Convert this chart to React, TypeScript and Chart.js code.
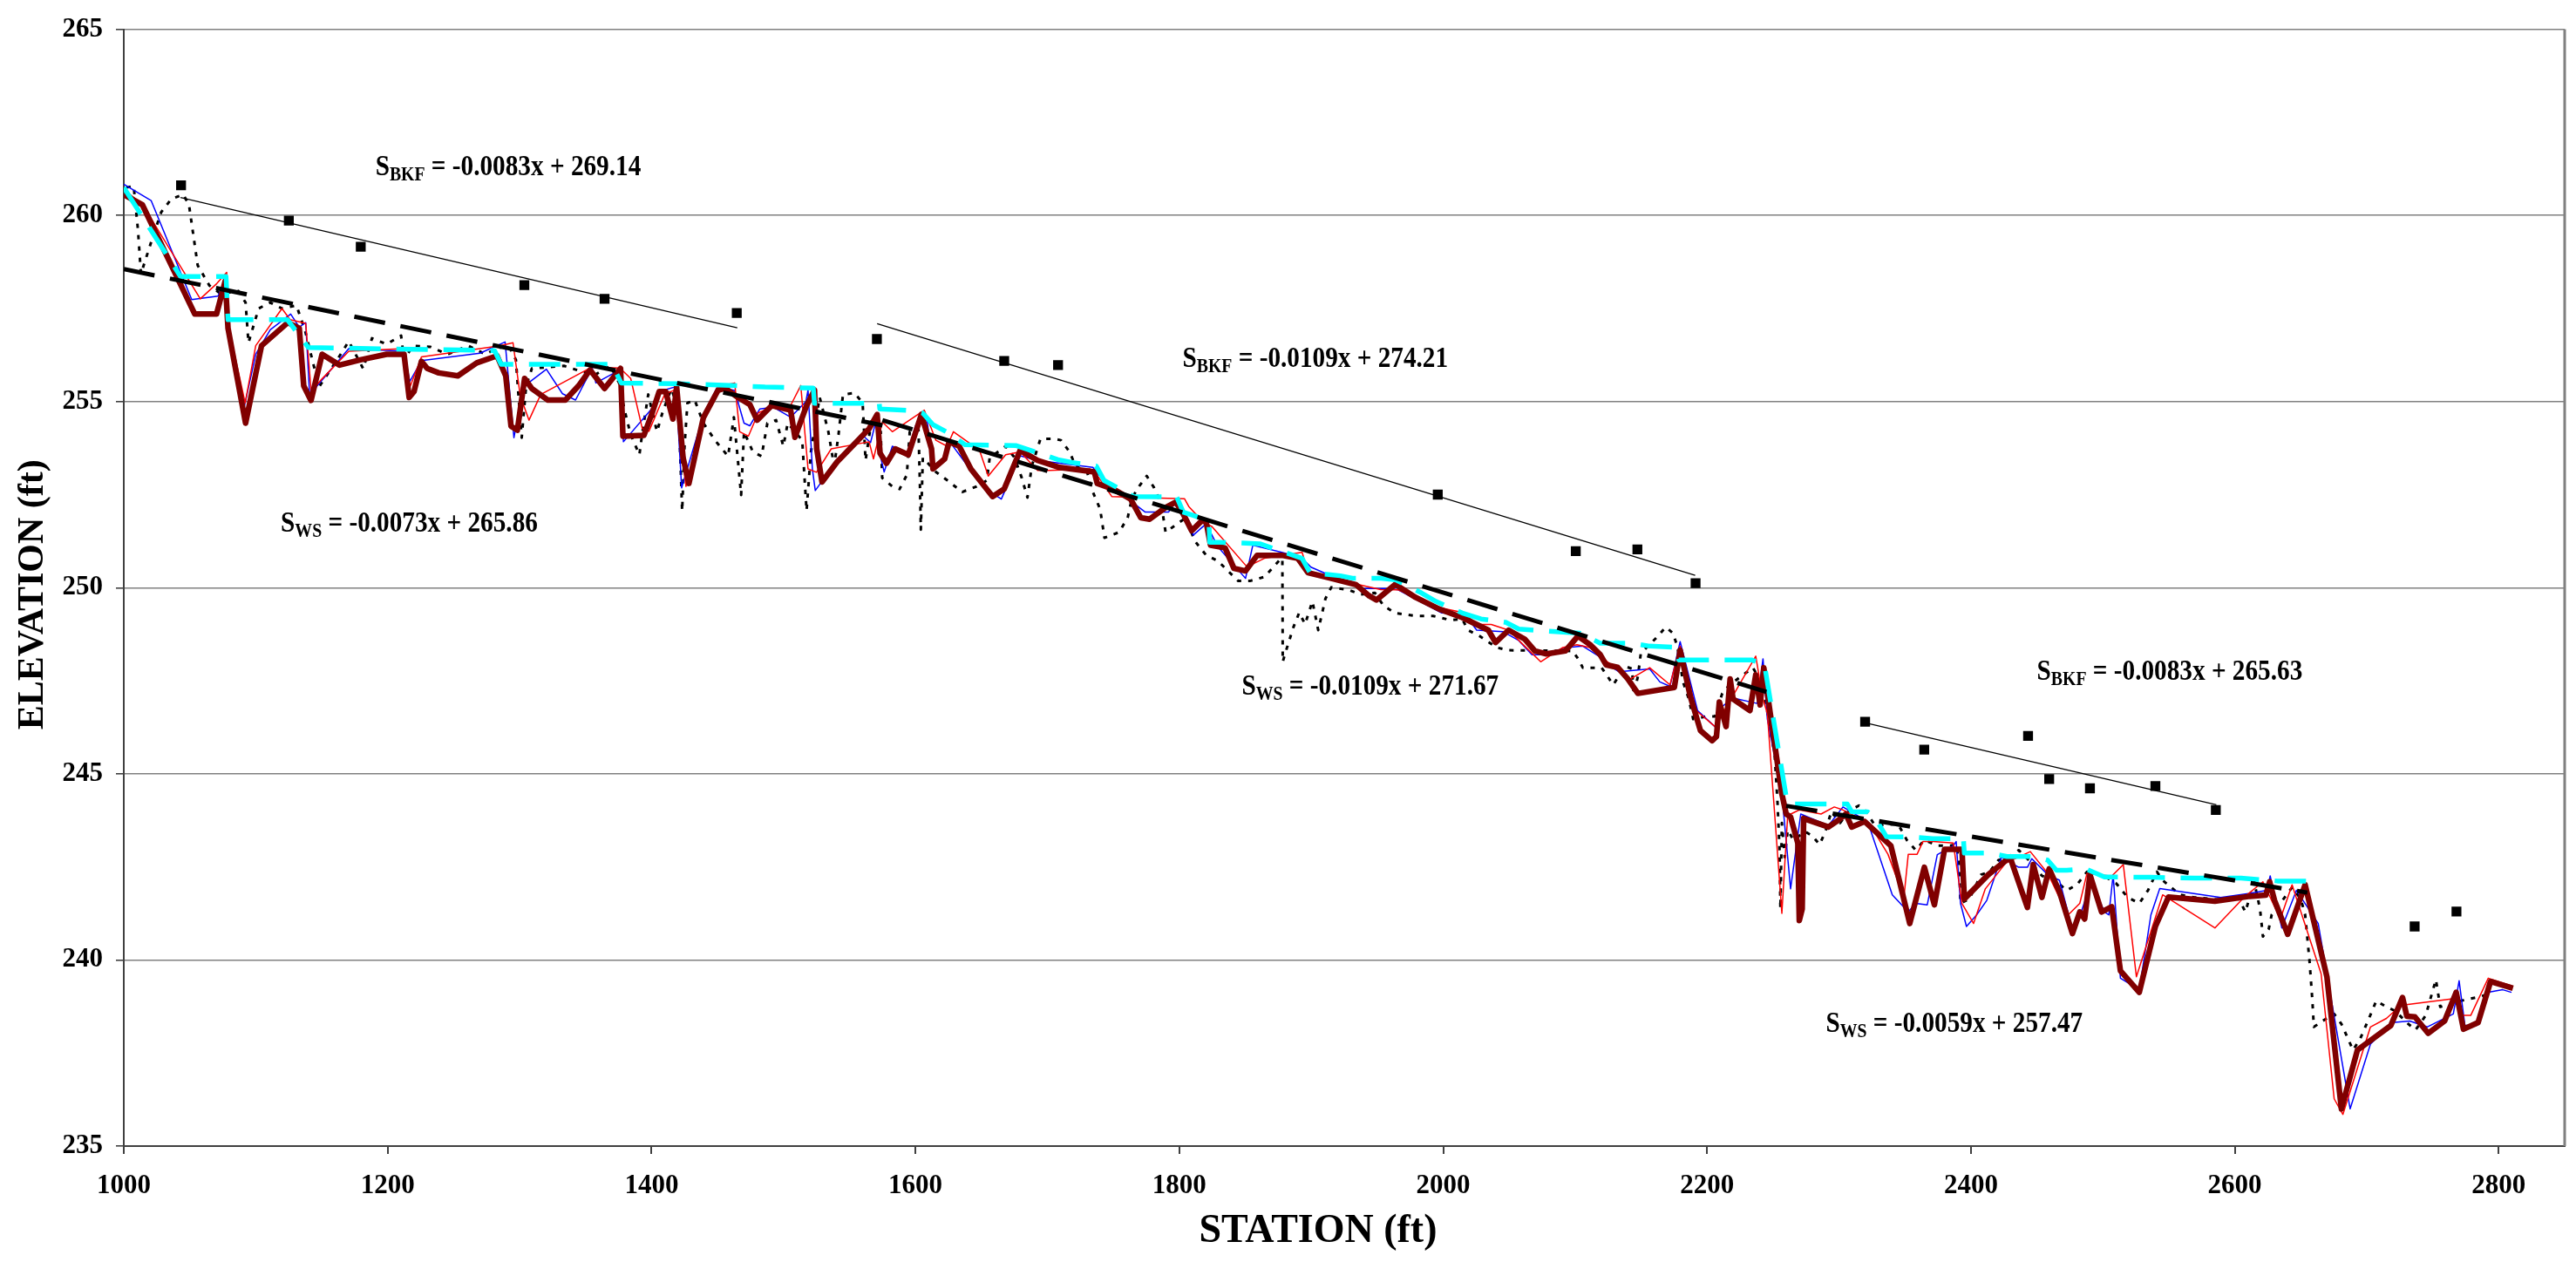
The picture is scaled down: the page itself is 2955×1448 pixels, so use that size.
import React, { useEffect, useRef } from "react";
import { Chart, registerables } from "chart.js";

Chart.register(...registerables);

type P = [number, number];

// ---------- axes ----------
const xTickValues = [1000, 1200, 1400, 1600, 1800, 2000, 2200, 2400, 2600, 2800];
const yTickValues = [235, 240, 245, 250, 255, 260, 265];
const xMin = 1000;
const xMax = 2850;
const yMin = 235;
const yMax = 265;

// ---------- bankfull points (black squares) ----------
const bkfPoints: P[] = [
  [1043.4, 260.81], [1125.1, 259.86], [1179.6, 259.16], [1303.6, 258.13], [1364.4, 257.76], [1464.6, 257.38],
  [1570.8, 256.68], [1667.3, 256.09], [1708.1, 255.98], [1995.9, 252.5], [2100.5, 250.98], [2147.2, 251.03], [2191.3, 250.12],
  [2319.8, 246.4], [2364.6, 245.65], [2443.3, 246.02], [2459.3, 244.86], [2490.2, 244.61], [2539.8, 244.67], [2585.6, 244.03],
  [2736.3, 240.9], [2768.0, 241.3],
];

// ---------- trend lines (end points) ----------
const bkfTrend1: P[] = [[1043, 260.48], [1465, 256.98]];
const bkfTrend2: P[] = [[1571, 257.09], [2191, 250.33]];
const bkfTrend3: P[] = [[2320, 246.37], [2586, 244.17]];
const wsTrend1: P[] = [[1000, 258.56], [1575, 254.36]];
const wsTrend2: P[] = [[1575, 254.5], [2245, 247.2]];
const wsTrend3: P[] = [[2260, 244.14], [2655, 241.81]];

// ---------- cyan stepped water surface ----------
const cyanWS: P[] = [
  [1000, 260.75], [1043, 258.36], [1077.5, 258.36], [1079, 257.2], [1124, 257.2], [1140, 256.45], [1281, 256.37],
  [1286, 256.0], [1370, 256.0], [1377, 255.5], [1418, 255.48], [1455, 255.44], [1486, 255.39], [1522.6, 255.36],
  [1523.5, 254.95], [1572.6, 254.95], [1573, 254.8], [1600, 254.75], [1605.6, 254.69], [1613.3, 254.38], [1625.5, 254.15],
  [1637.6, 253.84], [1676, 253.82], [1687, 253.69], [1708, 253.44], [1719, 253.36], [1737, 253.27], [1743, 252.88],
  [1765.3, 252.45], [1798, 252.44], [1803, 252.03], [1816, 251.88], [1822.6, 251.64], [1823, 251.22], [1831, 251.22],
  [1861, 251.18], [1875.5, 251.0], [1893, 250.79], [1899, 250.41], [1922, 250.32], [1932, 250.25], [1953, 250.25],
  [1964, 250.21], [1983.5, 249.86], [1994.5, 249.63], [2014.4, 249.32], [2028.7, 249.16], [2047.4, 249.07], [2057.3, 248.89],
  [2076, 248.84], [2103.6, 248.78], [2119, 248.51], [2142, 248.51], [2156.5, 248.43], [2176.3, 248.4], [2178.5, 248.06],
  [2233.6, 248.06], [2243.5, 247.93], [2260, 244.38], [2262.2, 244.19], [2306.3, 244.19], [2309.6, 243.98], [2321.7, 243.98],
  [2328.3, 243.76], [2336, 243.31], [2357, 243.3], [2371, 243.26], [2394.3, 243.26], [2395, 242.87], [2414.2, 242.87],
  [2427.4, 242.78], [2448.3, 242.78], [2458.2, 242.68], [2464.8, 242.41], [2472.6, 242.41], [2486.9, 242.45], [2501.2, 242.23],
  [2536.4, 242.22], [2569.5, 242.2], [2604.7, 242.2], [2632.3, 242.12], [2655, 242.12],
];

// ---------- thick dark red profile ----------
const maroonProfile: P[] = [
  [1000, 260.56], [1014, 260.29], [1053.8, 257.35], [1070.3, 257.35], [1076.9, 258.24], [1079, 256.97], [1092.3, 254.42],
  [1104.4, 256.5], [1124.3, 257.12], [1133, 256.97], [1136.4, 255.42], [1141.9, 255.03], [1150.3, 256.27], [1163.5, 255.98],
  [1179.3, 256.12], [1199.2, 256.27], [1212.4, 256.27], [1216.3, 255.11], [1220, 255.27], [1225.6, 256.08], [1230, 255.89],
  [1238.8, 255.77], [1253.2, 255.69], [1267.5, 256.04], [1282.9, 256.23], [1289.5, 255.69], [1293.5, 254.34], [1298.3, 254.23],
  [1303.8, 255.62], [1309.3, 255.35], [1321.5, 255.04], [1334.7, 255.04], [1344.6, 255.42], [1353.4, 255.85], [1364.4, 255.35],
  [1376.5, 255.89], [1378.3, 254.07], [1394.2, 254.09], [1400.8, 254.73], [1405.8, 255.27], [1410.7, 255.27], [1416.2, 254.53],
  [1419, 255.39], [1423.9, 253.49], [1428.3, 252.8], [1439.3, 254.57], [1450.3, 255.3], [1455.8, 255.36], [1463.5, 255.16],
  [1474.5, 254.92], [1480, 254.5], [1491, 254.89], [1505.4, 254.77], [1508.7, 254.04], [1517.5, 254.89], [1523.5, 255.31],
  [1525.2, 253.73], [1529.2, 252.84], [1540.6, 253.38], [1564.9, 254.27], [1571, 254.65], [1573.2, 253.61], [1578.1, 253.34],
  [1584.7, 253.73], [1594.6, 253.57], [1604.5, 254.65], [1612.2, 253.73], [1613.3, 253.19], [1622.2, 253.46], [1625.5, 253.92],
  [1633.2, 253.8], [1642, 253.19], [1658.5, 252.45], [1667.3, 252.65], [1679.4, 253.69], [1692.6, 253.42], [1709.2, 253.23],
  [1735.6, 253.11], [1737.8, 252.8], [1749.9, 252.65], [1763.1, 252.38], [1770.8, 251.88], [1777.5, 251.84], [1789.6, 252.15],
  [1797.3, 252.3], [1802.8, 251.99], [1809.4, 251.53], [1817.1, 251.8], [1820.4, 251.76], [1823.7, 251.14], [1834.7, 251.07],
  [1841.4, 250.52], [1850.2, 250.45], [1859, 250.87], [1877.7, 250.87], [1889.8, 250.79], [1897.6, 250.4], [1915.2, 250.25],
  [1934, 250.08], [1943.9, 249.78], [1949.4, 249.67], [1963.7, 250.09], [1979.1, 249.74], [1996.7, 249.43], [2014.4, 249.2],
  [2034.2, 248.86], [2039.7, 248.53], [2049.6, 248.86], [2061.7, 248.62], [2069.5, 248.3], [2078.3, 248.22], [2092.6, 248.3],
  [2102.1, 248.7], [2111.3, 248.47], [2119, 248.2], [2123.4, 247.93], [2132.2, 247.86], [2139.9, 247.55], [2147.6, 247.16],
  [2175.2, 247.32], [2179.6, 248.32], [2187.3, 247.08], [2195, 246.16], [2203.8, 245.89], [2207.1, 246.0], [2209.3, 246.93],
  [2214.4, 246.27], [2217.5, 247.55], [2219.7, 247.01], [2232.5, 246.7], [2236.9, 247.66], [2240.2, 246.85], [2243, 247.85],
  [2247.9, 246.62], [2256.7, 244.46], [2260, 243.92], [2263.3, 243.84], [2268.8, 243.14], [2269.9, 241.06], [2272.1, 241.37],
  [2273.2, 243.8], [2292, 243.57], [2299.7, 243.76], [2305.2, 243.92], [2309.6, 243.57], [2319.5, 243.72], [2339.3, 243.07],
  [2353.6, 240.98], [2364.7, 242.49], [2372.3, 241.48], [2380, 242.97], [2393.2, 242.97], [2395, 241.64], [2413.1, 242.29],
  [2429.6, 242.76], [2442.8, 241.41], [2447.2, 242.56], [2453.8, 241.68], [2459.3, 242.45], [2467.1, 241.83], [2476.9, 240.71],
  [2482.5, 241.29], [2486.2, 241.1], [2490.2, 242.29], [2499, 241.29], [2506.7, 241.43], [2513.3, 239.71], [2527.6, 239.13],
  [2539.8, 240.9], [2549.7, 241.69], [2584.9, 241.58], [2611.4, 241.71], [2623.5, 241.74], [2626.4, 242.1], [2630.1, 241.6],
  [2640.1, 240.69], [2653.3, 242.02], [2669.8, 239.55], [2680.8, 236.0], [2692.9, 237.58], [2718.3, 238.24], [2727.1, 238.99],
  [2730.4, 238.49], [2736.5, 238.47], [2746.5, 238.03], [2759, 238.36], [2767.8, 239.13], [2773.3, 238.14], [2784.4, 238.32],
  [2793.8, 239.42], [2810.8, 239.24],
];

// ---------- thin blue profile ----------
const blueProfile: P[] = [
  [1000, 260.84], [1020.7, 260.4], [1051.5, 257.74], [1071.4, 257.83], [1077, 258.28], [1079, 257.0], [1091.2, 254.84],
  [1100, 256.27], [1111, 256.93], [1126.5, 257.35], [1133, 257.0], [1137.9, 257.12], [1140.8, 255.19], [1146, 255.4],
  [1170.5, 256.42], [1212.4, 256.35], [1216.8, 255.54], [1225.6, 256.1], [1270, 256.3], [1289, 256.6], [1295.7, 254.03],
  [1303, 255.4], [1320.3, 255.87], [1332.5, 255.21], [1342.4, 255.04], [1355, 255.9], [1357.8, 255.5], [1376, 255.85],
  [1378.7, 253.92], [1400, 254.8], [1405.8, 255.27], [1418.5, 255.4], [1422.8, 252.68], [1439, 254.6], [1450, 255.4],
  [1463, 255.3], [1470.1, 254.42], [1474.5, 254.35], [1482, 254.8], [1492.2, 254.85], [1505.4, 254.58], [1517, 255.0],
  [1518.6, 255.31], [1521.9, 253.19], [1524.1, 252.61], [1530, 252.9], [1559.4, 254.11], [1566, 253.9], [1571, 254.6],
  [1573.7, 253.5], [1576.3, 253.11], [1582.5, 253.8], [1594, 253.6], [1600.1, 254.35], [1608.9, 254.5], [1611.1, 253.8],
  [1613, 253.2], [1622, 253.5], [1626, 253.92], [1639.8, 253.26], [1658, 252.55], [1665.1, 252.38], [1679.4, 253.54],
  [1692.6, 253.42], [1734.5, 253.23], [1738.9, 253.03], [1749.9, 252.69], [1768.6, 252.18], [1774.2, 252.03], [1791.8, 252.03],
  [1798, 252.34], [1807.2, 251.8], [1810.5, 251.41], [1820.4, 251.72], [1829.2, 251.1], [1850.2, 250.25], [1855.7, 251.14],
  [1877.7, 250.95], [1893.1, 250.79], [1899.8, 250.55], [1909.7, 250.4], [1939.5, 249.98], [1959.3, 249.98], [1965.9, 249.94],
  [1998.9, 249.32], [2016.6, 249.28], [2025.4, 248.86], [2045.2, 248.82], [2057.3, 248.58], [2067.3, 248.2], [2076, 248.2],
  [2093.7, 248.39], [2105.8, 248.43], [2117.9, 248.16], [2123.4, 247.97], [2133.3, 247.74], [2156.5, 247.82], [2164.2, 247.47],
  [2171.9, 247.35], [2179.6, 248.55], [2192.8, 246.7], [2207.1, 246.23], [2210.4, 246.77], [2219.3, 247.04], [2238, 246.89],
  [2242.4, 248.09], [2245.7, 246.47], [2256.7, 244.46], [2263.3, 241.91], [2271, 243.92], [2292, 243.61], [2303, 244.11],
  [2321.7, 243.72], [2340.4, 241.75], [2352.5, 241.29], [2358.1, 241.52], [2366.9, 241.48], [2374.5, 242.83], [2386.6, 243.07],
  [2388.8, 243.18], [2392.1, 241.52], [2396.6, 240.9], [2404.3, 241.21], [2412, 241.6], [2423, 242.76], [2436.2, 242.49],
  [2442.8, 242.49], [2446.1, 242.72], [2458.2, 242.29], [2467.1, 242.14], [2476.9, 240.83], [2483.6, 241.29], [2491.3, 242.1],
  [2501.2, 241.29], [2504.5, 241.21], [2507.8, 242.29], [2513.3, 239.51], [2527.6, 239.2], [2536.4, 241.21], [2543.1, 241.92],
  [2589.3, 241.68], [2611.4, 241.79], [2624.6, 241.87], [2626.8, 242.26], [2635.6, 240.86], [2641.2, 241.37], [2646.7, 241.87],
  [2663.2, 240.98], [2687.4, 236.0], [2702.8, 237.74], [2719.4, 238.32], [2732.6, 238.36], [2745.8, 238.2], [2765.6, 238.55],
  [2770, 239.44], [2774.4, 238.24], [2783.3, 238.24], [2792.1, 239.13], [2803.1, 239.2], [2809.7, 239.13],
];

// ---------- thin red profile ----------
const redProfile: P[] = [
  [1000, 260.7], [1014, 260.3], [1058, 257.76], [1070.5, 258.17], [1078, 258.47], [1079.5, 257.0], [1092, 254.96],
  [1100, 256.5], [1119.9, 257.5], [1126, 257.2], [1137.9, 257.1], [1142, 255.27], [1150, 255.6], [1170.5, 256.35],
  [1212.4, 256.42], [1217, 255.4], [1225.6, 256.2], [1285.1, 256.5], [1295, 256.58], [1300.5, 255.15], [1307.1, 254.5],
  [1316, 255.19], [1354.5, 255.92], [1376, 255.9], [1384.2, 255.62], [1393, 254.27], [1398, 254.2], [1410, 255.2],
  [1417, 255.3], [1426.1, 252.72], [1440, 254.5], [1450, 255.4], [1463, 255.5], [1466.8, 254.19], [1473.4, 254.07],
  [1481, 254.7], [1492, 254.85], [1505.5, 254.9], [1513.1, 255.43], [1518.6, 253.19], [1525, 253.1], [1536.2, 253.73],
  [1564.9, 253.92], [1568.2, 253.46], [1575, 254.45], [1582.5, 254.19], [1606.7, 254.77], [1615.5, 253.96], [1624, 253.8],
  [1628.8, 254.19], [1648.6, 253.69], [1655.2, 253.0], [1668.4, 253.57], [1679.4, 253.65], [1692.6, 253.15], [1701.4, 253.15],
  [1732.3, 253.19], [1738.9, 252.96], [1748.8, 252.45], [1773, 252.42], [1803.9, 252.39], [1807.2, 252.18], [1818.2, 251.76],
  [1824.8, 251.64], [1851.3, 250.56], [1864.5, 250.79], [1893.1, 250.95], [1897.6, 250.4], [1935.1, 250.09], [1952.7, 249.95],
  [1965.9, 249.94], [1979.1, 249.74], [1996.7, 249.47], [2015.5, 249.33], [2025.4, 249.01], [2036.4, 249.01], [2049.6, 248.86],
  [2060.6, 248.47], [2073.9, 248.01], [2090.4, 248.39], [2101.4, 248.47], [2111.3, 248.39], [2124.5, 248.01], [2142.1, 247.55],
  [2156.5, 247.85], [2171.9, 247.39], [2179.6, 248.43], [2191.7, 246.7], [2206, 246.27], [2219.3, 247.08], [2236.9, 248.16],
  [2242.4, 247.01], [2245.7, 246.62], [2256.7, 241.25], [2261.1, 243.88], [2269.9, 244.03], [2286.4, 243.92], [2296.4, 244.11],
  [2303, 244.03], [2322.8, 243.68], [2337.1, 242.84], [2349.2, 241.68], [2352.5, 242.84], [2359.2, 242.84], [2363.6, 243.18],
  [2371.2, 243.18], [2386.6, 243.14], [2393.2, 241.52], [2402, 240.98], [2410.9, 241.91], [2426.3, 242.6], [2445, 242.91],
  [2458.2, 242.33], [2466, 241.75], [2473.7, 241.21], [2482.5, 241.52], [2488, 242.33], [2506.7, 242.25], [2515.5, 242.56],
  [2525.4, 239.55], [2545.3, 241.75], [2584.9, 240.86], [2606.9, 241.68], [2621.3, 242.1], [2634.5, 241.1], [2643.4, 242.02],
  [2665.4, 239.63], [2675.3, 236.27], [2681.9, 235.85], [2702.8, 238.2], [2714.9, 238.43], [2726, 238.78], [2767.8, 238.97],
  [2772.2, 238.51], [2778.8, 238.51], [2792.1, 239.51], [2810, 239.3],
];

// ---------- dotted black profile ----------
const dottedProfile: P[] = [
  [1002, 260.75], [1007.5, 260.79], [1010.8, 259.59], [1013, 258.43], [1020.7, 259.28], [1028.4, 260.09], [1036, 260.44],
  [1045, 260.56], [1049.4, 260.29], [1056, 258.66], [1064.8, 258.12], [1073.6, 257.89], [1086.8, 257.97], [1092.3, 257.66],
  [1094.5, 256.58], [1102.2, 257.5], [1111, 257.66], [1119.8, 257.5], [1130.9, 257.58], [1137.5, 256.89], [1144, 255.96],
  [1148.5, 255.42], [1161.7, 256.12], [1170.5, 256.62], [1181.5, 255.88], [1188.1, 256.7], [1199.2, 256.54], [1210.2, 256.77],
  [1212.4, 256.12], [1219, 256.5], [1232.2, 256.47], [1245.4, 256.27], [1260.9, 256.5], [1274.1, 256.27], [1282.9, 256.43],
  [1291.7, 256.5], [1297.2, 256.12], [1299.4, 255.04], [1301.6, 254.03], [1304.9, 255.42], [1309.3, 255.89], [1320.3, 255.92],
  [1333.6, 255.96], [1346.8, 255.81], [1357.8, 255.73], [1368.8, 255.96], [1375.4, 255.5], [1379.8, 254.73], [1384.2, 254.11],
  [1390.8, 253.57], [1393.1, 254.19], [1397.5, 255.19], [1404.1, 254.19], [1408.5, 254.73], [1415.1, 255.35], [1420.6, 254.73],
  [1423.2, 252.06], [1425, 253.8], [1427.2, 254.96], [1432.7, 255.04], [1439.3, 254.42], [1448.1, 253.96], [1458, 253.53],
  [1462.4, 254.58], [1467.9, 252.49], [1470.1, 254.19], [1476.8, 253.65], [1483.4, 253.53], [1487.8, 254.42], [1494.4, 254.5],
  [1499.9, 253.8], [1503.2, 254.42], [1514.2, 253.96], [1517.5, 252.07], [1520.8, 253.65], [1527.4, 255.12], [1534, 254.19],
  [1538.4, 253.26], [1541.7, 254.11], [1545.1, 255.19], [1553.9, 255.23], [1560, 254.96], [1562.2, 253.42], [1567.1, 254.58],
  [1573.7, 254.19], [1574.8, 252.95], [1582.5, 252.72], [1588, 252.65], [1593.5, 253.03], [1595.7, 254.19], [1602.3, 254.27],
  [1603.4, 252.8], [1604.1, 251.56], [1605.6, 253.49], [1615.5, 253.11], [1624.3, 252.88], [1635.4, 252.57], [1646.4, 252.72],
  [1654.1, 252.88], [1656.3, 253.49], [1668.4, 253.8], [1675, 253.5], [1680.5, 252.96], [1684.9, 252.42], [1688.2, 253.27],
  [1694.8, 254.0], [1704.8, 254.0], [1710.3, 253.96], [1716.9, 253.65], [1721.3, 253.27], [1730.1, 253.11], [1734.5, 252.57],
  [1740, 252.11], [1743.3, 251.34], [1754.3, 251.49], [1760.9, 251.88], [1764.2, 252.42], [1769.7, 252.73], [1775.3, 253.0],
  [1780.8, 252.69], [1786.3, 252.26], [1789.6, 251.49], [1805, 251.88], [1811.6, 251.26], [1820.4, 250.87], [1829.2, 250.72],
  [1838, 250.41], [1844.7, 250.18], [1853.5, 250.18], [1864.5, 250.29], [1875.5, 250.72], [1878.1, 250.79], [1878.4, 248.01],
  [1881, 248.32], [1886.5, 248.94], [1890.9, 249.33], [1895.3, 249.02], [1900.9, 249.63], [1905.3, 248.86], [1910.8, 249.71],
  [1915.2, 250.01], [1928.5, 249.94], [1937.3, 249.82], [1948.3, 249.86], [1954.9, 249.51], [1963.7, 249.32], [1979.1, 249.24],
  [1992.3, 249.24], [2005.6, 249.13], [2014.4, 249.16], [2018.8, 248.86], [2027.6, 248.7], [2040.8, 248.39], [2049.6, 248.32],
  [2098.1, 248.3], [2102.5, 248.08], [2105.8, 247.85], [2120.1, 247.85], [2128.9, 247.39], [2137.7, 247.89], [2143.2, 247.82],
  [2144.3, 247.12], [2147.6, 247.62], [2149.8, 248.24], [2162, 248.67], [2168.6, 248.94], [2174.1, 248.78], [2177.4, 248.43],
  [2181.8, 247.47], [2186.2, 247.01], [2189.5, 246.47], [2199.4, 246.54], [2206, 246.54], [2211.5, 247.16], [2217.1, 247.39],
  [2234.7, 247.85], [2238, 247.66], [2242.4, 247.39], [2247.9, 246.16], [2251.2, 245.54], [2253.4, 244.23], [2255, 242.91],
  [2255.6, 241.37], [2256.7, 243.68], [2258.9, 242.76], [2261.1, 243.49], [2265.5, 243.22], [2274.3, 243.45], [2279.8, 243.33],
  [2285.3, 243.1], [2289.7, 243.45], [2294.2, 243.99], [2300.8, 243.68], [2307.4, 243.99], [2315.1, 244.15], [2320.6, 243.99],
  [2327.2, 243.61], [2344.8, 243.65], [2351.4, 243.22], [2358.1, 242.95], [2364.7, 243.22], [2374.6, 243.07], [2384.4, 243.07],
  [2388.8, 243.1], [2391, 242.6], [2392.1, 241.52], [2398.8, 241.64], [2407.6, 242.29], [2414.2, 242.37], [2420.8, 242.68],
  [2428.5, 242.76], [2436.2, 242.95], [2443.9, 242.68], [2453.8, 242.26], [2463.7, 242.14], [2472.6, 241.87], [2480.3, 242.02],
  [2488, 242.37], [2499, 242.29], [2510, 242.06], [2518.8, 241.68], [2527.6, 241.52], [2534.2, 241.87], [2540.9, 242.37],
  [2545.3, 242.14], [2558.5, 241.75], [2569.5, 241.68], [2593.7, 241.6], [2602.5, 241.68], [2608, 241.29], [2614.7, 242.1],
  [2619.1, 241.37], [2621.3, 240.63], [2625.7, 240.83], [2627.9, 241.21], [2643.4, 241.95], [2650, 241.64], [2653.3, 241.21],
  [2656.6, 239.98], [2658.8, 238.9], [2659.9, 238.2], [2666.5, 238.36], [2675.3, 238.55], [2680.8, 238.28], [2689.6, 237.58],
  [2695.1, 237.89], [2701.7, 238.43], [2707.2, 238.9], [2714.9, 238.74], [2721.6, 238.63], [2731.5, 238.28], [2737, 238.12],
  [2744.7, 238.51], [2750.2, 239.2], [2752.4, 239.47], [2755.7, 238.74], [2774.4, 238.93], [2785.4, 239.01], [2793.2, 239.09],
];

// ---------- equation labels ----------
const labelStations = [1190.7, 1119, 1802.4, 1847.3, 2450, 2290];
const labelElevations = [261.18, 251.61, 256.03, 247.22, 247.63, 238.15];
const labelSubs = ["BKF", "WS", "BKF", "WS", "BKF", "WS"];
const labelTexts = [
  " = -0.0083x + 269.14",
  " = -0.0073x + 265.86",
  " = -0.0109x + 274.21",
  " = -0.0109x + 271.67",
  " = -0.0083x + 265.63",
  " = -0.0059x + 257.47",
];

const xTitle = "STATION (ft)";
const yTitle = "ELEVATION (ft)";

const FONT = '"Liberation Serif", "Times New Roman", serif';

const toXY = (a: P[]) => a.map(([x, y]) => ({ x, y }));

export default function App() {
  const ref = useRef<HTMLCanvasElement | null>(null);

  useEffect(() => {
    const canvas = ref.current;
    if (!canvas) return;

    const line = (data: P[], color: string, width: number, dash: number[], order: number) => ({
      data: toXY(data),
      showLine: true,
      borderColor: color,
      backgroundColor: color,
      borderWidth: width,
      borderDash: dash,
      borderCapStyle: "butt",
      borderJoinStyle: "round",
      pointRadius: 0,
      pointHoverRadius: 0,
      pointHitRadius: 0,
      tension: 0,
      fill: false,
      order,
    });

    const textPlugin = {
      id: "textPlugin",
      afterDraw(chart: any) {
        const { ctx, chartArea, scales } = chart;
        ctx.save();
        // right border of plot area
        ctx.strokeStyle = "#808080";
        ctx.lineWidth = 3;
        ctx.beginPath();
        ctx.moveTo(chartArea.right, chartArea.top);
        ctx.lineTo(chartArea.right, chartArea.bottom);
        ctx.stroke();

        ctx.fillStyle = "#000";
        ctx.textBaseline = "alphabetic";
        ctx.textAlign = "left";
        const sx = 0.86;
        for (let i = 0; i < labelStations.length; i++) {
          const px = scales.x.getPixelForValue(labelStations[i]);
          const py = scales.y.getPixelForValue(labelElevations[i]);
          const base = py + 4;
          ctx.save();
          ctx.translate(px, base);
          ctx.scale(sx, 1);
          ctx.font = `bold 34px ${FONT}`;
          ctx.fillText("S", 0, 0);
          let w = ctx.measureText("S").width;
          ctx.font = `bold 23px ${FONT}`;
          ctx.fillText(labelSubs[i], w, 6);
          w += ctx.measureText(labelSubs[i]).width;
          ctx.font = `bold 34px ${FONT}`;
          ctx.fillText(labelTexts[i], w, 0);
          ctx.restore();
        }

        // axis titles
        ctx.font = `bold 46px ${FONT}`;
        ctx.textAlign = "center";
        ctx.textBaseline = "middle";
        ctx.fillText(xTitle, 1512, 1413);
        ctx.save();
        ctx.translate(38, (chartArea.top + chartArea.bottom) / 2 + 8);
        ctx.rotate(-Math.PI / 2);
        ctx.font = `bold 42px ${FONT}`;
        ctx.fillText(yTitle, 0, 0);
        ctx.restore();
        ctx.restore();
      },
    };

    const chart = new Chart(canvas, {
      type: "scatter",
      data: {
        datasets: [
          {
            data: toXY(bkfPoints),
            pointStyle: "rect",
            pointRadius: 8,
            pointHoverRadius: 8,
            backgroundColor: "#000",
            borderColor: "#000",
            borderWidth: 0,
            showLine: false,
            order: 0,
          } as any,
          line(bkfTrend1, "#000", 1.3, [], 1),
          line(bkfTrend2, "#000", 1.3, [], 1),
          line(bkfTrend3, "#000", 1.3, [], 1),
          line(wsTrend1, "#000", 5, [36, 18], 2),
          line(wsTrend2, "#000", 5, [36, 18], 2),
          line(wsTrend3, "#000", 5, [36, 18], 2),
          line(cyanWS, "#00FFFF", 5.5, [36, 18], 3),
          line(maroonProfile, "#800000", 6.5, [], 4),
          line(redProfile, "#FF0000", 1.5, [], 5),
          line(blueProfile, "#0000FF", 1.5, [], 6),
          line(dottedProfile, "#000", 3, [5, 8], 7),
        ] as any,
      },
      options: {
        responsive: false,
        maintainAspectRatio: false,
        animation: false,
        events: [],
        layout: { padding: { top: 20, right: 13, left: 0, bottom: 0 } },
        plugins: {
          legend: { display: false },
          tooltip: { enabled: false },
          title: { display: false },
        },
        scales: {
          x: {
            type: "linear",
            min: xMin,
            max: xMax,
            afterBuildTicks: (s: any) => {
              s.ticks = xTickValues.map((v) => ({ value: v }));
            },
            afterFit: (s: any) => {
              s.height = 133;
            },
            grid: {
              display: true,
              drawOnChartArea: false,
              drawTicks: true,
              tickLength: 9,
              color: "#404040",
              tickColor: "#404040",
              lineWidth: 2,
            },
            border: { display: true, color: "#404040", width: 2 },
            ticks: {
              color: "#000",
              font: { family: FONT, size: 31, weight: "bold" },
              padding: 18,
              maxRotation: 0,
              autoSkip: false,
              callback: (v: any) => String(v),
            },
          },
          y: {
            type: "linear",
            min: yMin,
            max: yMax,
            afterBuildTicks: (s: any) => {
              s.ticks = yTickValues.map((v) => ({ value: v }));
            },
            afterFit: (s: any) => {
              s.width = 142;
            },
            grid: {
              display: true,
              drawOnChartArea: true,
              drawTicks: true,
              tickLength: 9,
              color: "#808080",
              tickColor: "#404040",
              lineWidth: 1.6,
            },
            border: { display: true, color: "#404040", width: 2 },
            ticks: {
              color: "#000",
              font: { family: FONT, size: 31, weight: "bold" },
              padding: 15,
              autoSkip: false,
              callback: (v: any) => String(v),
            },
          },
        },
      } as any,
      plugins: [textPlugin],
    });

    return () => {
      chart.destroy();
    };
  }, []);

  return (
    <div style={{ position: "absolute", left: 0, top: 0, width: 2955, height: 1448, background: "#fff", overflow: "hidden" }}>
      <canvas ref={ref} width={2955} height={1448} style={{ display: "block", width: 2955, height: 1448 }} />
    </div>
  );
}
